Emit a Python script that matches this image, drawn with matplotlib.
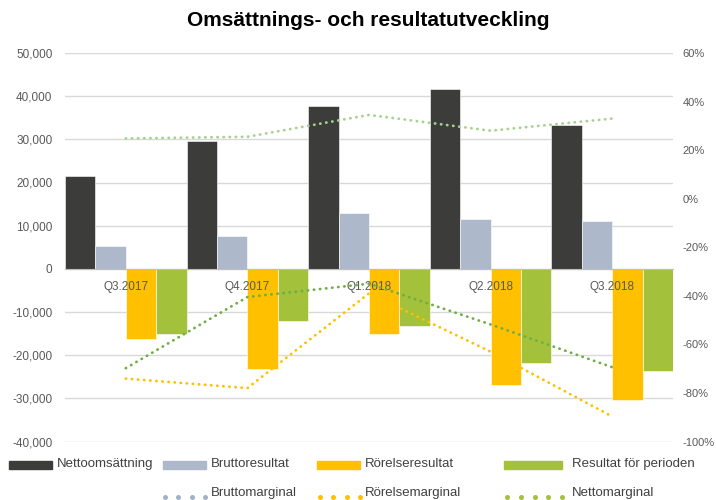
import matplotlib

matplotlib.use("Agg")
import matplotlib.pyplot as plt
import numpy as np
from matplotlib.lines import Line2D
from matplotlib.patches import Rectangle
from matplotlib.ticker import FuncFormatter, MultipleLocator, NullFormatter

plt.rcParams["font.family"] = ["Liberation Sans", "DejaVu Sans"]
plt.rcParams["axes.unicode_minus"] = False

quarters = ["Q3.2017", "Q4.2017", "Q1.2018", "Q2.2018", "Q3.2018"]

# bars, left axis (TSEK)
nettoomsattning = [21500, 29500, 37700, 41600, 33400]
bruttoresultat = [5300, 7500, 13000, 11600, 11100]
rorelseresultat = [-16200, -23200, -15100, -26800, -30500]
resultat_perioden = [-15100, -12200, -13300, -21700, -23700]

# margins, right axis
bruttomarginal = [0.248, 0.255, 0.345, 0.28, 0.33]
rorelsemarginal = [-0.741, -0.78, -0.39, -0.63, -0.897]
nettomarginal = [-0.698, -0.405, -0.35, -0.518, -0.694]

bar_series = [
    ("Nettoomsättning", nettoomsattning, "#3c3c3a"),
    ("Bruttoresultat", bruttoresultat, "#adb9ca"),
    ("Rörelseresultat", rorelseresultat, "#ffc000"),
    ("Resultat för perioden", resultat_perioden, "#a3c13a"),
]
line_series = [
    ("Bruttomarginal", bruttomarginal, "#a9d18e"),
    ("Rörelsemarginal", rorelsemarginal, "#ffc000"),
    ("Nettomarginal", nettomarginal, "#70ad47"),
]

W, H = 716, 500
TICK = "#595959"
TEXT = "#404040"


def fx(px):
    return px / W


def fy(py):
    return 1 - py / H


fig = plt.figure(figsize=(W / 100, H / 100), dpi=100, facecolor="white")
ax = fig.add_axes([fx(65), fy(441.5), fx(673 - 65), (441.5 - 53) / H])

x = np.arange(len(quarters))
width = 0.25
for i, (label, values, color) in enumerate(bar_series):
    ax.bar(x + (i - 1.5) * width, values, width=width, color=color,
           edgecolor="white", linewidth=0.4, zorder=2)

ax.set_xlim(-0.5, len(quarters) - 0.5)
ax.set_ylim(-40000, 50000)
ax.yaxis.set_major_locator(MultipleLocator(10000))
ax.yaxis.set_major_formatter(FuncFormatter(lambda v, _: f"{v:,.0f}"))
ax.grid(axis="y", color="#d9d9d9", linewidth=1, zorder=0)
ax.set_axisbelow(True)
for side in ("top", "right", "left"):
    ax.spines[side].set_visible(False)
ax.spines["bottom"].set_position(("data", 0))
ax.spines["bottom"].set_color("#bfbfbf")
ax.spines["bottom"].set_zorder(3)
ax.set_xticks(x)
ax.xaxis.set_major_formatter(NullFormatter())
ax.tick_params(axis="x", length=0)
ax.tick_params(axis="y", length=0, pad=9, labelsize=8.5, labelcolor=TICK)

# category labels sit just under the zero line, in front of the bars
for xi, q in zip(x, quarters):
    ax.annotate(q, (xi, 0), xytext=(0, -9), textcoords="offset points",
                ha="center", va="top", fontsize=8.5, color=TICK, zorder=6)

ax2 = ax.twinx()
for label, values, color in line_series:
    ax2.plot(x, values, color=color, linewidth=2, linestyle=(0, (0.1, 2.1)),
             dash_capstyle="round")
ax2.set_ylim(-1.0, 0.6)
ax2.yaxis.set_major_locator(MultipleLocator(0.2))
ax2.yaxis.set_major_formatter(FuncFormatter(lambda v, _: f"{v * 100:.0f}%"))
ax2.tick_params(axis="y", length=0, pad=7, labelsize=8, labelcolor=TICK)
for side in ("top", "right", "left", "bottom"):
    ax2.spines[side].set_visible(False)

fig.text(fx(368), fy(21), "Omsättnings- och resultatutveckling", ha="center", va="center",
         fontsize=15, fontweight="bold", color="black")

# legend, row 1: bars
bar_legend = [(9, 52, 57), (163, 206, 211), (317, 360, 365), (504, 562, 572)]
for (label, _, color), (x0, x1, tx) in zip(bar_series, bar_legend):
    fig.patches.append(Rectangle((fx(x0), fy(469)), fx(x1 - x0), 8 / H,
                                 transform=fig.transFigure, color=color))
    fig.text(fx(tx), fy(464), label, ha="left", va="center", fontsize=9.5, color=TEXT)

# legend, row 2: margins
dot_legend = [(165, 205, 211, 4, "#9fb3c8"), (320, 360, 365, 4, "#ffc000"),
              (507, 562, 572, 5, "#a3c13a")]
for (label, _, _), (x0, x1, tx, n, color) in zip(line_series, dot_legend):
    xs = np.linspace(fx(x0), fx(x1), n)
    fig.lines.append(Line2D(xs, [fy(496.5)] * n, transform=fig.transFigure,
                            linestyle="none", marker="o", markersize=3.6,
                            color=color, markeredgewidth=0))
    fig.text(fx(tx), fy(493), label, ha="left", va="center", fontsize=9.5, color=TEXT)

fig.savefig("out.png", dpi=100, facecolor="white")
